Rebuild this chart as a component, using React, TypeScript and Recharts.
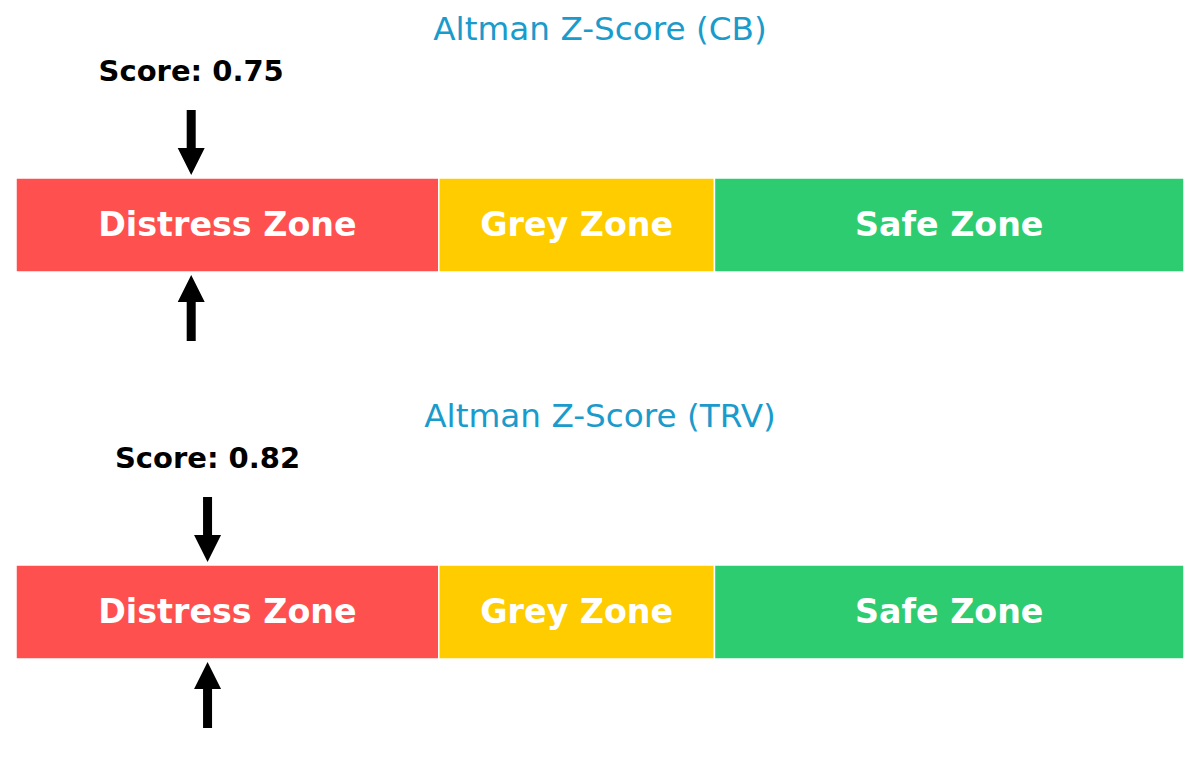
import React from "react";
import { BarChart, Bar, XAxis, YAxis, LabelList, ReferenceDot } from "recharts";

const zoneNames = ["Distress Zone", "Grey Zone", "Safe Zone"];
const zoneBounds = [0, 1.81, 2.99, 5];
const zoneColors = ["#ff5050", "#ffcc00", "#2ecc71"];
const companies = ["CB", "TRV"];
const scores = [0.75, 0.82];

const FONT = "'DejaVu Sans', Verdana, sans-serif";

const Arrows = (props: any) => {
  const { cx, cy, score } = props;
  if (cx == null || cy == null) return null;
  const sw = 4.5;
  const hw = 13.5;
  return (
    <g>
      <text x={cx} y={cy - 144} textAnchor="middle" fontFamily={FONT} fontWeight="bold" fontSize={29} fill="#000">
        {`Score: ${score.toFixed(2)}`}
      </text>
      <path
        d={`M${cx - sw},${cy - 115} L${cx + sw},${cy - 115} L${cx + sw},${cy - 77} L${cx + hw},${cy - 77} L${cx},${cy - 50} L${cx - hw},${cy - 77} L${cx - sw},${cy - 77} Z`}
        fill="#000"
      />
      <path
        d={`M${cx - sw},${cy + 116} L${cx + sw},${cy + 116} L${cx + sw},${cy + 77} L${cx + hw},${cy + 77} L${cx},${cy + 50} L${cx - hw},${cy + 77} L${cx - sw},${cy + 77} Z`}
        fill="#000"
      />
    </g>
  );
};

function Panel({ name, score }: { name: string; score: number }) {
  const row: any = { name: "z" };
  zoneNames.forEach((z, i) => {
    row[`z${i}`] = zoneBounds[i + 1] - zoneBounds[i];
  });
  const data = [row];
  return (
    <div style={{ position: "relative", width: 1200, height: 387 }}>
      <div
        style={{
          position: "absolute",
          left: 0,
          top: 0,
          width: 1200,
          textAlign: "center",
          fontFamily: FONT,
          fontSize: 32.7,
          lineHeight: "32px",
          color: "#1a9bcb",
          paddingTop: 13,
        }}
      >
        {`Altman Z-Score (${name})`}
      </div>
      <BarChart
        width={1200}
        height={387}
        data={data}
        layout="vertical"
        margin={{ top: 178, bottom: 115, left: 16, right: 16 }}
        barCategoryGap={0}
        style={{ position: "absolute", left: 0, top: 0 }}
      >
        <XAxis type="number" domain={[0, 5]} hide allowDataOverflow />
        <YAxis type="category" dataKey="name" hide />
        {zoneNames.map((z, i) => (
          <Bar
            key={z}
            dataKey={`z${i}`}
            stackId="a"
            fill={zoneColors[i]}
            stroke="#ffffff"
            strokeWidth={1.5}
            isAnimationActive={false}
          >
            <LabelList
              position="center"
              content={(p: any) => (
                <text
                  x={p.x + p.width / 2}
                  y={p.y + p.height / 2 + 11}
                  textAnchor="middle"
                  fontFamily={FONT}
                  fontWeight="bold"
                  fontSize={33.3}
                  fill="#ffffff"
                >
                  {z}
                </text>
              )}
            />
          </Bar>
        ))}
        <ReferenceDot
          x={score}
          y="z"
          ifOverflow="visible"
          shape={(p: any) => <Arrows {...p} score={score} />}
        />
      </BarChart>
    </div>
  );
}

export default function App() {
  return (
    <div style={{ position: "absolute", left: 0, top: 0, width: 1200, height: 774, background: "#fff" }}>
      {companies.map((c, i) => (
        <Panel key={c} name={c} score={scores[i]} />
      ))}
    </div>
  );
}
